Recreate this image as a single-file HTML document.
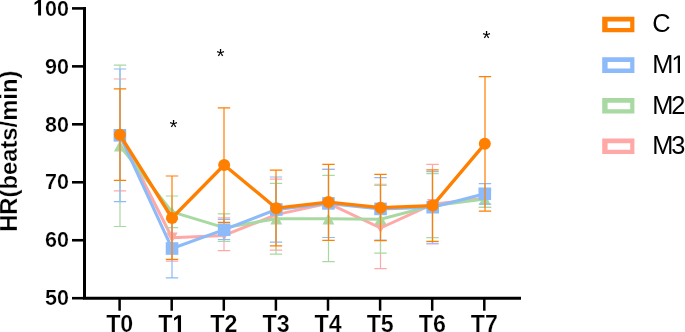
<!DOCTYPE html>
<html><head><meta charset="utf-8"><style>
html,body{margin:0;padding:0;background:#fff;width:685px;height:332px;overflow:hidden}
svg{display:block;will-change:transform}
text{font-family:"Liberation Sans",sans-serif}
.b{font-weight:bold;font-size:21px;stroke:#fff;stroke-width:0.25px}
.t{font-weight:bold;font-size:23.8px;stroke:#fff;stroke-width:0.25px}
.l{font-size:25.4px;letter-spacing:-2px}
.s{font-size:20.7px}
</style></head><body>
<svg width="685" height="332" viewBox="0 0 685 332">
<path d="M84.5 7V299.7M83 298.2H521" stroke="#000" stroke-width="3" fill="none"/>
<path d="M72 8.40H84" stroke="#000" stroke-width="2.6"/>
<path d="M72 66.36H84" stroke="#000" stroke-width="2.6"/>
<path d="M72 124.32H84" stroke="#000" stroke-width="2.6"/>
<path d="M72 182.28H84" stroke="#000" stroke-width="2.6"/>
<path d="M72 240.24H84" stroke="#000" stroke-width="2.6"/>
<path d="M72 298.20H84" stroke="#000" stroke-width="2.6"/>
<path d="M119.60 298H119.60V310.7" stroke="#000" stroke-width="2.5"/>
<path d="M171.70 298H171.70V310.7" stroke="#000" stroke-width="2.5"/>
<path d="M223.80 298H223.80V310.7" stroke="#000" stroke-width="2.5"/>
<path d="M275.90 298H275.90V310.7" stroke="#000" stroke-width="2.5"/>
<path d="M328.00 298H328.00V310.7" stroke="#000" stroke-width="2.5"/>
<path d="M380.10 298H380.10V310.7" stroke="#000" stroke-width="2.5"/>
<path d="M432.20 298H432.20V310.7" stroke="#000" stroke-width="2.5"/>
<path d="M484.30 298H484.30V310.7" stroke="#000" stroke-width="2.5"/>
<path transform="translate(33.07,15.60) scale(0.01052,-0.01104)" d="M478 0L478 1170L140 959L140 1180L493 1409L759 1409L759 0Z" fill="#000"/>
<text transform="translate(45.04,15.60) scale(0.953,1)" style="font-weight:bold;font-size:22.6px" class="b">0</text>
<text transform="translate(57.02,15.60) scale(0.953,1)" style="font-weight:bold;font-size:22.6px" class="b">0</text>
<text transform="translate(45.04,73.56) scale(0.953,1)" style="font-weight:bold;font-size:22.6px" class="b">9</text>
<text transform="translate(57.02,73.56) scale(0.953,1)" style="font-weight:bold;font-size:22.6px" class="b">0</text>
<text transform="translate(45.04,131.52) scale(0.953,1)" style="font-weight:bold;font-size:22.6px" class="b">8</text>
<text transform="translate(57.02,131.52) scale(0.953,1)" style="font-weight:bold;font-size:22.6px" class="b">0</text>
<text transform="translate(45.04,189.48) scale(0.953,1)" style="font-weight:bold;font-size:22.6px" class="b">7</text>
<text transform="translate(57.02,189.48) scale(0.953,1)" style="font-weight:bold;font-size:22.6px" class="b">0</text>
<text transform="translate(45.04,247.44) scale(0.953,1)" style="font-weight:bold;font-size:22.6px" class="b">6</text>
<text transform="translate(57.02,247.44) scale(0.953,1)" style="font-weight:bold;font-size:22.6px" class="b">0</text>
<text transform="translate(45.04,305.40) scale(0.953,1)" style="font-weight:bold;font-size:22.6px" class="b">5</text>
<text transform="translate(57.02,305.40) scale(0.953,1)" style="font-weight:bold;font-size:22.6px" class="b">0</text>
<text transform="translate(106.15,332.30) scale(0.94,1)" style="font-weight:bold;font-size:24.7px" class="b">T</text>
<text transform="translate(120.33,332.30) scale(0.94,1)" style="font-weight:bold;font-size:24.7px" class="b">0</text>
<text transform="translate(158.25,332.30) scale(0.94,1)" style="font-weight:bold;font-size:24.7px" class="b">T</text>
<path transform="translate(172.43,332.30) scale(0.01134,-0.01206)" d="M478 0L478 1170L140 959L140 1180L493 1409L759 1409L759 0Z" fill="#000"/>
<text transform="translate(210.35,332.30) scale(0.94,1)" style="font-weight:bold;font-size:24.7px" class="b">T</text>
<text transform="translate(224.53,332.30) scale(0.94,1)" style="font-weight:bold;font-size:24.7px" class="b">2</text>
<text transform="translate(262.45,332.30) scale(0.94,1)" style="font-weight:bold;font-size:24.7px" class="b">T</text>
<text transform="translate(276.63,332.30) scale(0.94,1)" style="font-weight:bold;font-size:24.7px" class="b">3</text>
<text transform="translate(314.55,332.30) scale(0.94,1)" style="font-weight:bold;font-size:24.7px" class="b">T</text>
<text transform="translate(328.73,332.30) scale(0.94,1)" style="font-weight:bold;font-size:24.7px" class="b">4</text>
<text transform="translate(366.65,332.30) scale(0.94,1)" style="font-weight:bold;font-size:24.7px" class="b">T</text>
<text transform="translate(380.83,332.30) scale(0.94,1)" style="font-weight:bold;font-size:24.7px" class="b">5</text>
<text transform="translate(418.75,332.30) scale(0.94,1)" style="font-weight:bold;font-size:24.7px" class="b">T</text>
<text transform="translate(432.93,332.30) scale(0.94,1)" style="font-weight:bold;font-size:24.7px" class="b">6</text>
<text transform="translate(470.85,332.30) scale(0.94,1)" style="font-weight:bold;font-size:24.7px" class="b">T</text>
<text transform="translate(485.03,332.30) scale(0.94,1)" style="font-weight:bold;font-size:24.7px" class="b">7</text>
<text transform="translate(17.2,151.2) rotate(-90)" text-anchor="middle" class="t">HR(beats/min)</text>
<path d="M120.00 79.00V190.90M113.80 79.00H126.20M113.80 190.90H126.20" stroke="#FFA8A8" stroke-width="1.2" fill="none"/>
<path d="M172.00 212.00V261.10M165.80 212.00H178.20M165.80 261.10H178.20" stroke="#FFA8A8" stroke-width="1.2" fill="none"/>
<path d="M224.00 217.80V250.70M217.80 217.80H230.20M217.80 250.70H230.20" stroke="#FFA8A8" stroke-width="1.2" fill="none"/>
<path d="M276.00 179.20V250.10M269.80 179.20H282.20M269.80 250.10H282.20" stroke="#FFA8A8" stroke-width="1.2" fill="none"/>
<path d="M328.50 169.30V237.50M322.30 169.30H334.70M322.30 237.50H334.70" stroke="#FFA8A8" stroke-width="1.2" fill="none"/>
<path d="M380.50 184.25V268.60M374.30 184.25H386.70M374.30 268.60H386.70" stroke="#FFA8A8" stroke-width="1.2" fill="none"/>
<path d="M432.50 164.40V244.00M426.30 164.40H438.70M426.30 244.00H438.70" stroke="#FFA8A8" stroke-width="1.2" fill="none"/>
<path d="M485.00 189.20V207.30M478.80 189.20H491.20M478.80 207.30H491.20" stroke="#FFA8A8" stroke-width="1.2" fill="none"/>
<polyline points="119.90,135.00 172.03,237.70 224.16,235.40 276.29,214.65 328.42,203.40 380.55,228.00 432.68,204.20 484.81,198.20" stroke="#FFA8A8" stroke-width="3" fill="none" stroke-linejoin="round"/>
<path d="M119.90 140.25L125.50 129.75L114.30 129.75Z" fill="#FFA8A8"/>
<path d="M172.03 242.95L177.63 232.45L166.43 232.45Z" fill="#FFA8A8"/>
<path d="M224.16 240.65L229.76 230.15L218.56 230.15Z" fill="#FFA8A8"/>
<path d="M276.29 219.90L281.89 209.40L270.69 209.40Z" fill="#FFA8A8"/>
<path d="M328.42 208.65L334.02 198.15L322.82 198.15Z" fill="#FFA8A8"/>
<path d="M380.55 233.25L386.15 222.75L374.95 222.75Z" fill="#FFA8A8"/>
<path d="M432.68 209.45L438.28 198.95L427.08 198.95Z" fill="#FFA8A8"/>
<path d="M484.81 203.45L490.41 192.95L479.21 192.95Z" fill="#FFA8A8"/>
<path d="M120.00 65.10V226.50M113.80 65.10H126.20M113.80 226.50H126.20" stroke="#A8D9A2" stroke-width="1.2" fill="none"/>
<path d="M172.00 196.00V227.70M165.80 196.00H178.20M165.80 227.70H178.20" stroke="#A8D9A2" stroke-width="1.2" fill="none"/>
<path d="M224.00 213.80V241.50M217.80 213.80H230.20M217.80 241.50H230.20" stroke="#A8D9A2" stroke-width="1.2" fill="none"/>
<path d="M276.00 183.30V254.20M269.80 183.30H282.20M269.80 254.20H282.20" stroke="#A8D9A2" stroke-width="1.2" fill="none"/>
<path d="M328.50 175.30V261.70M322.30 175.30H334.70M322.30 261.70H334.70" stroke="#A8D9A2" stroke-width="1.2" fill="none"/>
<path d="M380.50 185.40V253.10M374.30 185.40H386.70M374.30 253.10H386.70" stroke="#A8D9A2" stroke-width="1.2" fill="none"/>
<path d="M432.50 173.70V237.60M426.30 173.70H438.70M426.30 237.60H438.70" stroke="#A8D9A2" stroke-width="1.2" fill="none"/>
<path d="M485.00 190.70V207.30M478.80 190.70H491.20M478.80 207.30H491.20" stroke="#A8D9A2" stroke-width="1.2" fill="none"/>
<polyline points="119.90,145.80 172.03,211.85 224.16,227.65 276.29,218.75 328.42,218.80 380.55,219.20 432.68,205.65 484.81,199.00" stroke="#A8D9A2" stroke-width="3" fill="none" stroke-linejoin="round"/>
<path d="M119.90 140.15L125.80 151.45L114.00 151.45Z" fill="#A8D9A2"/>
<path d="M172.03 206.20L177.93 217.50L166.13 217.50Z" fill="#A8D9A2"/>
<path d="M224.16 222.00L230.06 233.30L218.26 233.30Z" fill="#A8D9A2"/>
<path d="M276.29 213.10L282.19 224.40L270.39 224.40Z" fill="#A8D9A2"/>
<path d="M328.42 213.15L334.32 224.45L322.52 224.45Z" fill="#A8D9A2"/>
<path d="M380.55 213.55L386.45 224.85L374.65 224.85Z" fill="#A8D9A2"/>
<path d="M432.68 200.00L438.58 211.30L426.78 211.30Z" fill="#A8D9A2"/>
<path d="M484.81 193.35L490.71 204.65L478.91 204.65Z" fill="#A8D9A2"/>
<path d="M120.00 69.00V201.60M113.80 69.00H126.20M113.80 201.60H126.20" stroke="#8DBAF8" stroke-width="1.2" fill="none"/>
<path d="M172.00 219.10V277.90M165.80 219.10H178.20M165.80 277.90H178.20" stroke="#8DBAF8" stroke-width="1.2" fill="none"/>
<path d="M224.00 219.30V239.70M217.80 219.30H230.20M217.80 239.70H230.20" stroke="#8DBAF8" stroke-width="1.2" fill="none"/>
<path d="M276.00 177.00V242.10M269.80 177.00H282.20M269.80 242.10H282.20" stroke="#8DBAF8" stroke-width="1.2" fill="none"/>
<path d="M328.50 169.30V237.50M322.30 169.30H334.70M322.30 237.50H334.70" stroke="#8DBAF8" stroke-width="1.2" fill="none"/>
<path d="M380.50 177.60V240.20M374.30 177.60H386.70M374.30 240.20H386.70" stroke="#8DBAF8" stroke-width="1.2" fill="none"/>
<path d="M432.50 171.70V243.25M426.30 171.70H438.70M426.30 243.25H438.70" stroke="#8DBAF8" stroke-width="1.2" fill="none"/>
<path d="M485.00 183.65V204.10M478.80 183.65H491.20M478.80 204.10H491.20" stroke="#8DBAF8" stroke-width="1.2" fill="none"/>
<polyline points="119.90,135.30 172.03,248.50 224.16,229.70 276.29,209.50 328.42,203.40 380.55,208.90 432.68,207.20 484.81,193.80" stroke="#8DBAF8" stroke-width="3" fill="none" stroke-linejoin="round"/>
<rect x="113.60" y="129.00" width="12.6" height="12.6" fill="#8DBAF8"/>
<rect x="165.73" y="242.20" width="12.6" height="12.6" fill="#8DBAF8"/>
<rect x="217.86" y="223.40" width="12.6" height="12.6" fill="#8DBAF8"/>
<rect x="269.99" y="203.20" width="12.6" height="12.6" fill="#8DBAF8"/>
<rect x="322.12" y="197.10" width="12.6" height="12.6" fill="#8DBAF8"/>
<rect x="374.25" y="202.60" width="12.6" height="12.6" fill="#8DBAF8"/>
<rect x="426.38" y="200.90" width="12.6" height="12.6" fill="#8DBAF8"/>
<rect x="478.51" y="187.50" width="12.6" height="12.6" fill="#8DBAF8"/>
<path d="M120.00 88.90V180.40M113.80 88.90H126.20M113.80 180.40H126.20" stroke="#FF7F00" stroke-width="1.2" fill="none"/>
<path d="M172.00 176.00V259.40M165.80 176.00H178.20M165.80 259.40H178.20" stroke="#FF7F00" stroke-width="1.2" fill="none"/>
<path d="M224.00 107.80V222.30M217.80 107.80H230.20M217.80 222.30H230.20" stroke="#FF7F00" stroke-width="1.2" fill="none"/>
<path d="M276.00 170.20V245.80M269.80 170.20H282.20M269.80 245.80H282.20" stroke="#FF7F00" stroke-width="1.2" fill="none"/>
<path d="M328.50 164.30V240.40M322.30 164.30H334.70M322.30 240.40H334.70" stroke="#FF7F00" stroke-width="1.2" fill="none"/>
<path d="M380.50 174.40V240.60M374.30 174.40H386.70M374.30 240.60H386.70" stroke="#FF7F00" stroke-width="1.2" fill="none"/>
<path d="M432.50 169.90V241.40M426.30 169.90H438.70M426.30 241.40H438.70" stroke="#FF7F00" stroke-width="1.2" fill="none"/>
<path d="M485.00 76.70V211.10M478.80 76.70H491.20M478.80 211.10H491.20" stroke="#FF7F00" stroke-width="1.2" fill="none"/>
<polyline points="119.90,134.80 172.03,218.00 224.16,165.00 276.29,208.20 328.42,202.10 380.55,207.70 432.68,205.60 484.81,143.85" stroke="#FF7F00" stroke-width="3.3" fill="none" stroke-linejoin="round"/>
<circle cx="119.90" cy="134.80" r="6" fill="#FF7F00"/>
<circle cx="172.03" cy="218.00" r="6" fill="#FF7F00"/>
<circle cx="224.16" cy="165.00" r="6" fill="#FF7F00"/>
<circle cx="276.29" cy="208.20" r="6" fill="#FF7F00"/>
<circle cx="328.42" cy="202.10" r="6" fill="#FF7F00"/>
<circle cx="380.55" cy="207.70" r="6" fill="#FF7F00"/>
<circle cx="432.68" cy="205.60" r="6" fill="#FF7F00"/>
<circle cx="484.81" cy="143.85" r="6" fill="#FF7F00"/>
<text x="173.5" y="134.10" text-anchor="middle" class="s">*</text>
<text x="220.5" y="63.40" text-anchor="middle" class="s">*</text>
<text x="486.5" y="45.20" text-anchor="middle" class="s">*</text>
<path fill-rule="evenodd" fill="#FF7F00" d="M602.2 16.70H634.4V32.30H602.2Z M607.6 21.50V28.00H630.2V21.50Z"/>
<text transform="translate(652.20,32.30) scale(1.0,1)" style="font-weight:normal;font-size:25.4px" >C</text>
<path fill-rule="evenodd" fill="#8DBAF8" d="M602.2 57.30H634.4V72.90H602.2Z M607.6 62.10V68.60H630.2V62.10Z"/>
<text transform="translate(652.20,72.90) scale(1.0,1)" style="font-weight:normal;font-size:25.4px" >M</text>
<path transform="translate(671.36,72.90) scale(0.01240,-0.01240)" d="M515 0L515 1237L197 1010L197 1180L530 1409L696 1409L696 0Z" fill="#000"/>
<path fill-rule="evenodd" fill="#A8D9A2" d="M602.2 97.90H634.4V113.50H602.2Z M607.6 102.70V109.20H630.2V102.70Z"/>
<text transform="translate(652.20,113.50) scale(1.0,1)" style="font-weight:normal;font-size:25.4px" >M</text>
<text transform="translate(671.36,113.50) scale(1.0,1)" style="font-weight:normal;font-size:25.4px" >2</text>
<path fill-rule="evenodd" fill="#FFA8A8" d="M602.2 138.50H634.4V154.10H602.2Z M607.6 143.30V149.80H630.2V143.30Z"/>
<text transform="translate(652.20,154.10) scale(1.0,1)" style="font-weight:normal;font-size:25.4px" >M</text>
<text transform="translate(671.36,154.10) scale(1.0,1)" style="font-weight:normal;font-size:25.4px" >3</text>
</svg>
</body></html>
